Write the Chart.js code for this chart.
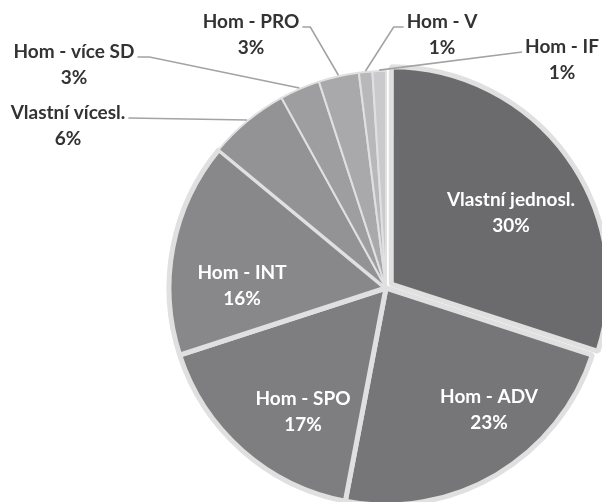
<!DOCTYPE html>
<html>
<head>
<meta charset="utf-8">
<script src="https://cdn.jsdelivr.net/npm/chart.js@4"></script>
<style>
  html, body { margin: 0; padding: 0; background: #ffffff; }
  #wrap { width: 602px; height: 502px; }
</style>
</head>
<body>
<div id="wrap"><canvas id="c" width="602" height="502"></canvas></div>
<script>
// ---- data ----
const categories = ["Vlastní jednosl.", "Hom - ADV", "Hom - SPO", "Hom - INT", "Vlastní vícesl.", "Hom - více SD", "Hom - PRO", "Hom - V", "Hom - IF"];
const shares = [30, 23, 17, 16, 6, 3, 3, 1, 1];

// ---- styles ----
const sliceColors = ["#6b6b6e", "#767679", "#7e7e81", "#88888b", "#939396", "#9e9ea1", "#a9a9ac", "#b8b8bb", "#cacacd"];
const sliceOffsets = [26, 0, 0, 0, 0, 0, 0, 0, 0];
const sliceBorders = [5, 5, 5, 5, 2, 2, 2, 2, 2];

// label layout (offsets of the two-line block centre from pie centre, px at radius 217)
const insideLabels = {
  0: { dx: 125, dy: -75 },
  1: { dx: 103, dy: 122 },
  2: { dx: -83, dy: 124 },
  3: { dx: -144, dy: -2 }
};
const outsideLabels = {
  4: { dx: -318, dy: -162, side: 'left', elbow: 0 },
  5: { dx: -312, dy: -223, side: 'left', elbow: 12 },
  6: { dx: -135, dy: -253, side: 'left', elbow: 8 },
  7: { dx: 56, dy: -253, side: 'right', elbow: 10 },
  8: { dx: 176, dy: -228, side: 'right', elbow: 0 }
};

const FONT = "bold 19px Lato, 'Open Sans', sans-serif";
const LINE_H = 26;

const labelPlugin = {
  id: 'sliceLabels',
  afterDatasetsDraw(chart) {
    const ctx = chart.ctx;
    const meta = chart.getDatasetMeta(0);
    const total = shares.reduce((a, b) => a + b, 0);
    ctx.save();
    ctx.font = FONT;
    ctx.textAlign = 'center';
    ctx.textBaseline = 'middle';
    meta.data.forEach((arc, i) => {
      const p = arc.getProps(['x', 'y', 'startAngle', 'endAngle', 'outerRadius'], true);
      const cx = chart.chartArea.left + chart.chartArea.width / 2;
      const cy = chart.chartArea.top + chart.chartArea.height / 2;
      const k = p.outerRadius / 217;
      const pct = Math.round(shares[i] / total * 100) + '%';
      if (insideLabels[i]) {
        const L = insideLabels[i];
        const x = cx + L.dx * k, y = cy + L.dy * k;
        ctx.fillStyle = '#ffffff';
        ctx.fillText(categories[i], x, y - LINE_H / 2);
        ctx.fillText(pct, x, y + LINE_H / 2);
      } else if (outsideLabels[i]) {
        const L = outsideLabels[i];
        const x = cx + L.dx * k, y = cy + L.dy * k;
        const mid = (p.startAngle + p.endAngle) / 2;
        const ax = p.x + Math.cos(mid) * (p.outerRadius + 1);
        const ay = p.y + Math.sin(mid) * (p.outerRadius + 1);
        const w = ctx.measureText(categories[i]).width;
        const ly = y - LINE_H / 2 + 5;
        let sx, ex;
        if (L.side === 'left') { sx = x + w / 2 + 3; ex = sx + L.elbow; }
        else { sx = x - w / 2 - 3; ex = sx - L.elbow; }
        ctx.strokeStyle = '#a3a3a3';
        ctx.lineWidth = 1.6;
        ctx.beginPath();
        ctx.moveTo(sx, ly);
        ctx.lineTo(ex, ly);
        ctx.lineTo(ax, ay);
        ctx.stroke();
        ctx.fillStyle = '#333333';
        ctx.fillText(categories[i], x, y - LINE_H / 2);
        ctx.fillText(pct, x, y + LINE_H / 2);
      }
    });
    ctx.restore();
  }
};

new Chart(document.getElementById('c'), {
  type: 'pie',
  data: {
    labels: categories,
    datasets: [{
      data: shares,
      backgroundColor: sliceColors,
      borderColor: '#e0e0e0',
      borderWidth: sliceBorders,
      offset: sliceOffsets,
      clip: false
    }]
  },
  options: {
    responsive: false,
    animation: false,
    radius: 217,
    layout: { padding: { left: 170, right: 0, top: 74, bottom: 0 } },
    plugins: { legend: { display: false }, tooltip: { enabled: false } },
    events: []
  },
  plugins: [labelPlugin]
});
</script>
</body>
</html>
